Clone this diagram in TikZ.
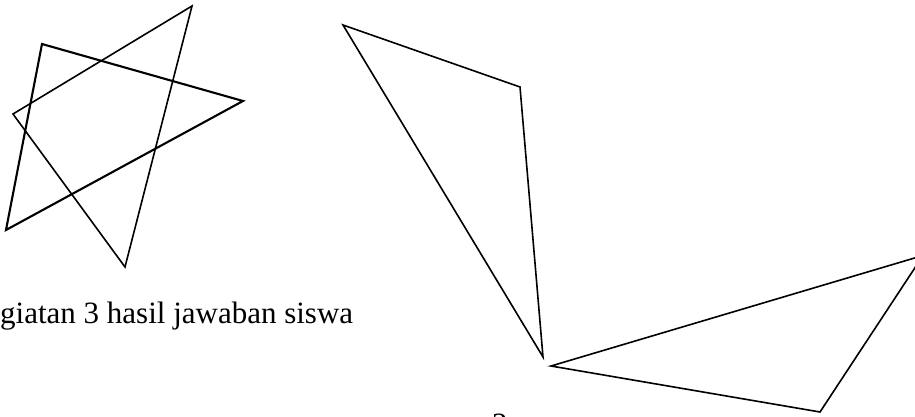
\documentclass[tikz,border=0pt]{standalone}
\usepackage{fontspec}
\setmainfont{Liberation Serif}
\begin{document}
\begin{tikzpicture}[x=1pt,y=-1pt,
  thinline/.style={line width=1.6pt,line join=miter},
  thickline/.style={line width=2.1pt,line join=miter},
  lbl/.style={font=\fontsize{31}{36}\selectfont,inner sep=0pt,anchor=base west}]
\useasboundingbox (0,0) rectangle (915,417);
\clip (0,0) rectangle (915,417);
% left star: two triangles
\coordinate (a1) at (192,6);
\coordinate (a2) at (13,114);
\coordinate (a3) at (125,267);
\coordinate (b1) at (42,44);
\coordinate (b2) at (243,101);
\coordinate (b3) at (6,230);
\draw[thinline] (a1) -- (a2) -- (a3) -- cycle;
\draw[thickline] (b1) -- (b2) -- (b3) -- cycle;
% right shapes
\coordinate (c1) at (343,25);
\coordinate (c2) at (520,87);
\coordinate (c3) at (543,357);
\coordinate (d1) at (551,366);
\coordinate (d2) at (923,255.5);
\coordinate (d3) at (820,412);
\draw[thinline] (c1) -- (c2) -- (c3) -- cycle;
\draw[thinline] (d1) -- (d2) -- (d3) -- cycle;
% labels
\node[lbl] (cap) at (0,323) {giatan 3 hasil jawaban siswa};
\node[lbl] (num) at (492,434) {2};
\end{tikzpicture}
\end{document}
